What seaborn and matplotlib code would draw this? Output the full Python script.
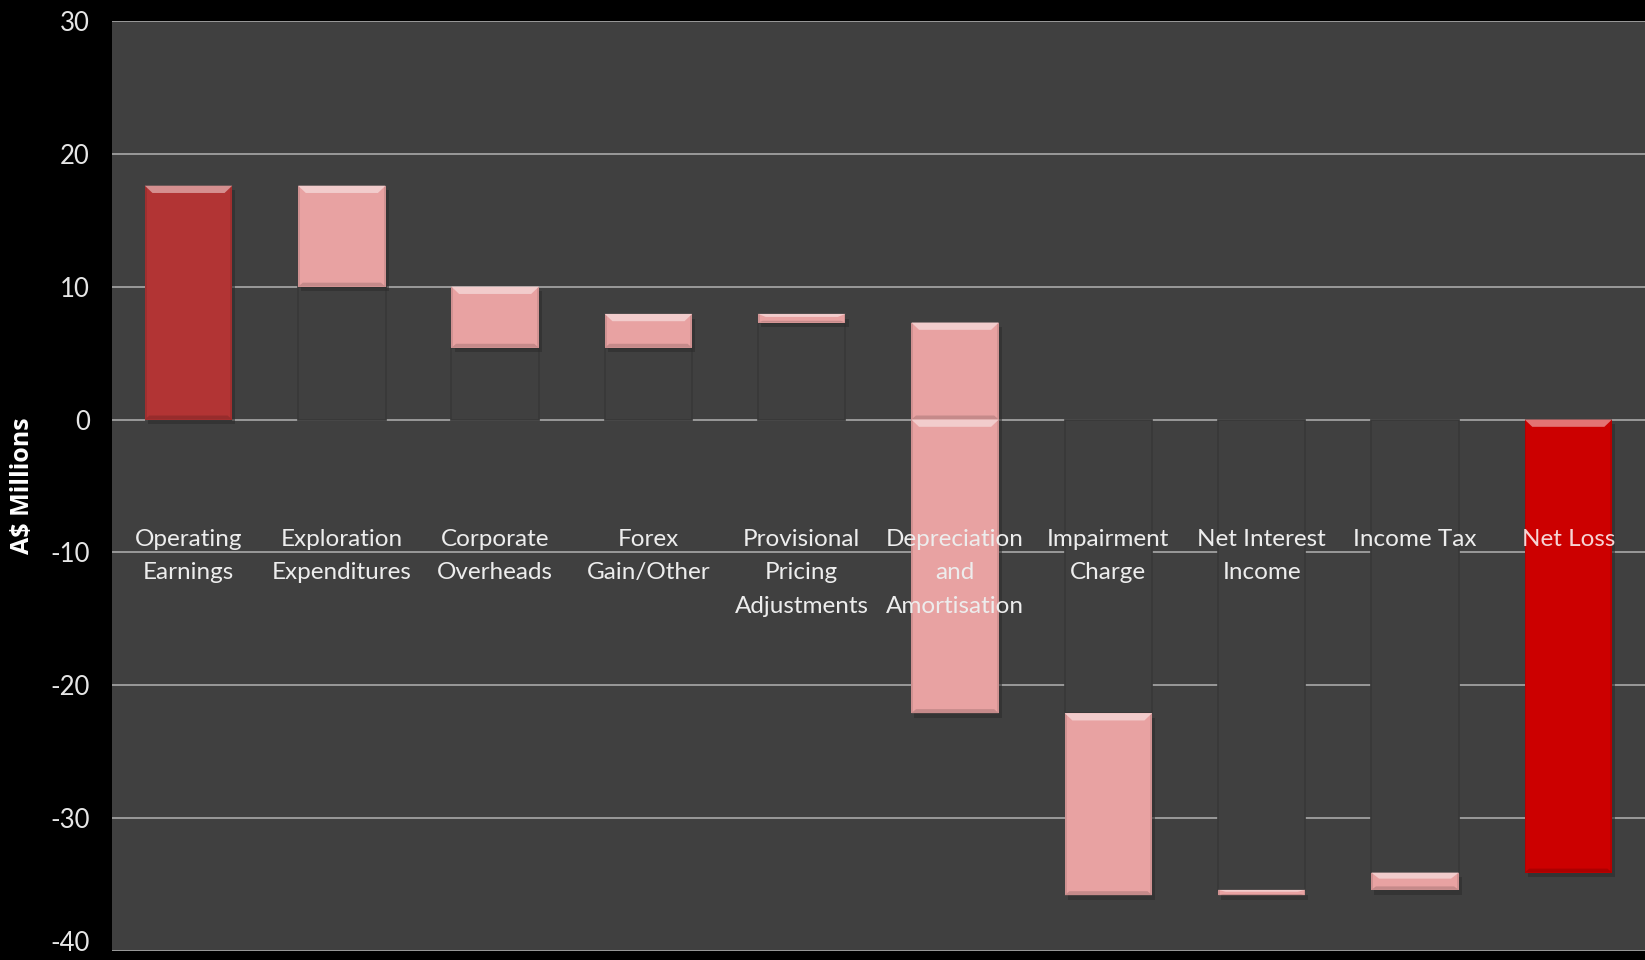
import numpy as np
import pandas as pd
import matplotlib
matplotlib.use("Agg")
import matplotlib.pyplot as plt
import seaborn as sns

plt.rcParams["axes.unicode_minus"] = False

# ---- data ----
categories = ["Operating\nEarnings", "Exploration\nExpenditures", "Corporate\nOverheads",
              "Forex\nGain/Other", "Provisional\nPricing\nAdjustments",
              "Depreciation\nand\nAmortisation", "Impairment\nCharge",
              "Net Interest\nIncome", "Income Tax", "Net Loss"]
changes = [17.6, -7.6, -4.6, 2.55, -0.65, -29.4, -13.7, 0.4, 1.3, None]  # None = total
bar_colors = ["#B23434", "#E8A2A2", "#E8A2A2", "#E8A2A2", "#E8A2A2",
              "#E8A2A2", "#E8A2A2", "#E8A2A2", "#E8A2A2", "#CC0000"]
label_colors = ["#EDEDED"] * 9 + ["#F6D4D4"]
yticks = [-40, -30, -20, -10, 0, 10, 20, 30]

# ---- waterfall geometry from data ----
starts, ends = [], []
run = 0.0
for c in changes:
    if c is None:
        starts.append(0.0); ends.append(run)
    elif len(starts) == 0:
        starts.append(0.0); ends.append(c); run = c
    else:
        starts.append(run); run = run + c; ends.append(run)
lo = np.minimum(starts, ends)
hi = np.maximum(starts, ends)
pos_bottom = np.where(hi > 0, np.maximum(lo, 0), 0)
pos_height = np.where(hi > 0, hi - np.maximum(lo, 0), 0)
neg_bottom = np.where(lo < 0, lo, 0)
neg_height = np.where(lo < 0, np.minimum(hi, 0) - lo, 0)
base_bottom = np.where(lo > 0, 0, np.where(hi < 0, hi, 0))
base_height = np.where(lo > 0, lo, np.where(hi < 0, -hi, 0))
is_float = np.array([0 < i < len(categories) - 1 for i in range(len(categories))])
base_height = np.where(is_float, base_height, 0)

df = pd.DataFrame({"cat": categories})

fig = plt.figure(figsize=(16.45, 9.6), dpi=100, facecolor="black")
ax = fig.add_axes([0.068, 0.0094, 0.932, 0.9688])
ax.set_facecolor("#404040")

W = 0.57
sns.barplot(x=df["cat"], y=base_height, bottom=base_bottom, ax=ax, width=W,
            color="#404040", edgecolor="#383838", linewidth=1.2, zorder=2,
            order=categories)
n_before = len(ax.patches)
sns.barplot(x=df["cat"], y=pos_height, bottom=pos_bottom, ax=ax, width=W,
            color="#E8A2A2", linewidth=0, zorder=3, order=categories)
sns.barplot(x=df["cat"], y=neg_height, bottom=neg_bottom, ax=ax, width=W,
            color="#E8A2A2", linewidth=0, zorder=3, order=categories)

def shade(c, f):
    r, g, b = matplotlib.colors.to_rgb(c)
    if f > 0:
        return (r + (1 - r) * f, g + (1 - g) * f, b + (1 - b) * f)
    return (r * (1 + f), g * (1 + f), b * (1 + f))

vis = ax.patches[n_before:]
for k, p in enumerate(vis):
    i = k % len(categories)
    col = bar_colors[i]
    p.set_facecolor(col)
    h = p.get_height()
    if h <= 0:
        continue
    x0, y0, w = p.get_x(), p.get_y(), p.get_width()
    ax.add_patch(plt.Rectangle((x0 + 0.02, y0 - 0.35), w, h, facecolor="#2c2c2c",
                               alpha=0.6, zorder=2.5, linewidth=0))
    bev = min(0.55, h * 0.35)
    ax.add_patch(plt.Polygon([(x0, y0 + h), (x0 + w, y0 + h),
                              (x0 + w - 0.05, y0 + h - bev), (x0 + 0.05, y0 + h - bev)],
                             closed=True, facecolor=shade(col, 0.45), linewidth=0, zorder=3.5))
    bb = min(0.3, h * 0.2)
    ax.add_patch(plt.Polygon([(x0, y0), (x0 + w, y0),
                              (x0 + w - 0.03, y0 + bb), (x0 + 0.03, y0 + bb)],
                             closed=True, facecolor=shade(col, -0.15), linewidth=0, zorder=3.5))
    ax.add_patch(plt.Rectangle((x0, y0), 0.012, h, facecolor=shade(col, -0.1),
                               linewidth=0, zorder=3.4))
    ax.add_patch(plt.Rectangle((x0 + w - 0.012, y0), 0.012, h, facecolor=shade(col, -0.1),
                               linewidth=0, zorder=3.4))

ax.set_ylim(-40, 30)
ax.set_xlim(-0.5, len(categories) - 0.5)
ax.set_yticks(yticks)
ax.yaxis.grid(True, color="#9A9A9A", linewidth=1.4, zorder=1)
ax.set_axisbelow(True)
for s in ax.spines.values():
    s.set_visible(False)
ax.tick_params(axis="y", length=0, pad=16, labelsize=18.5, labelcolor="#E6E6E6")
ax.tick_params(axis="x", length=0, labelbottom=False)
for t in ax.get_yticklabels():
    t.set_fontfamily("Lato")
    t.set_horizontalalignment("right")
ax.get_yticklabels()[0].set_verticalalignment("baseline")
ax.set_xlabel("")
ax.set_ylabel("A$ Millions", fontsize=18, fontweight="bold", color="white",
              fontfamily="Open Sans")
ax.yaxis.set_label_coords(-0.05, 0.5)

for i, lab in enumerate(categories):
    ax.text(i, -8.25, lab, ha="center", va="top", fontsize=17.5, color=label_colors[i],
            fontfamily="Lato", linespacing=1.72, zorder=5)

fig.savefig("out.png", dpi=100, facecolor="black")
